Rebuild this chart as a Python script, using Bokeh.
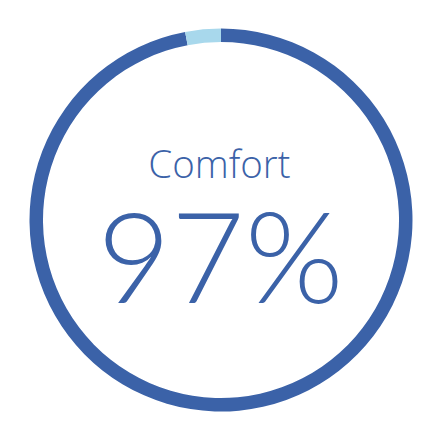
import math
from bokeh.plotting import figure
from bokeh.models import Range1d, ColumnDataSource
from bokeh.core.properties import value
from bokeh.embed import file_html
from bokeh.resources import INLINE

# data
segments = ["Comfort", "Other"]
shares = [97, 3]
colors = ["#3b62a8", "#a8d8ec"]
title_label = "Comfort"
pct_label = "97%"

total = sum(shares)
starts, ends = [], []
acc = 0.0
for s in shares:
    a0 = math.pi / 2 - 2 * math.pi * acc / total
    acc += s
    a1 = math.pi / 2 - 2 * math.pi * acc / total
    starts.append(a0)
    ends.append(a1)

src = ColumnDataSource(dict(seg=segments, val=shares, start=starts, end=ends, color=colors,
                            x=[220.5] * 2, y=[220.5] * 2))

p = figure(width=424, height=424, output_backend="svg", toolbar_location=None,
           x_range=Range1d(0, 424), y_range=Range1d(16, 440), min_border=0)
p.axis.visible = False
p.grid.visible = False
p.outline_line_color = None
p.background_fill_color = "white"
p.border_fill_color = "white"

p.annular_wedge(x="x", y="y", inner_radius=178, outer_radius=191.5,
                start_angle="start", end_angle="end", direction="clock",
                color="color", line_color=None, source=src)

p.text(x=[219], y=[277.5], text=[title_label], text_align="center", text_baseline="alphabetic",
       text_font=value("Open Sans Light"), text_font_size="38.5px", text_color="#3b62a8")
p.text(x=[220], y=[186.5], text=[pct_label], text_align="center", text_baseline="alphabetic",
       text_font=value("Lato Light"), text_font_size="127px", text_color="#3b62a8")

open("out.html", "w").write(file_html(p, INLINE))
